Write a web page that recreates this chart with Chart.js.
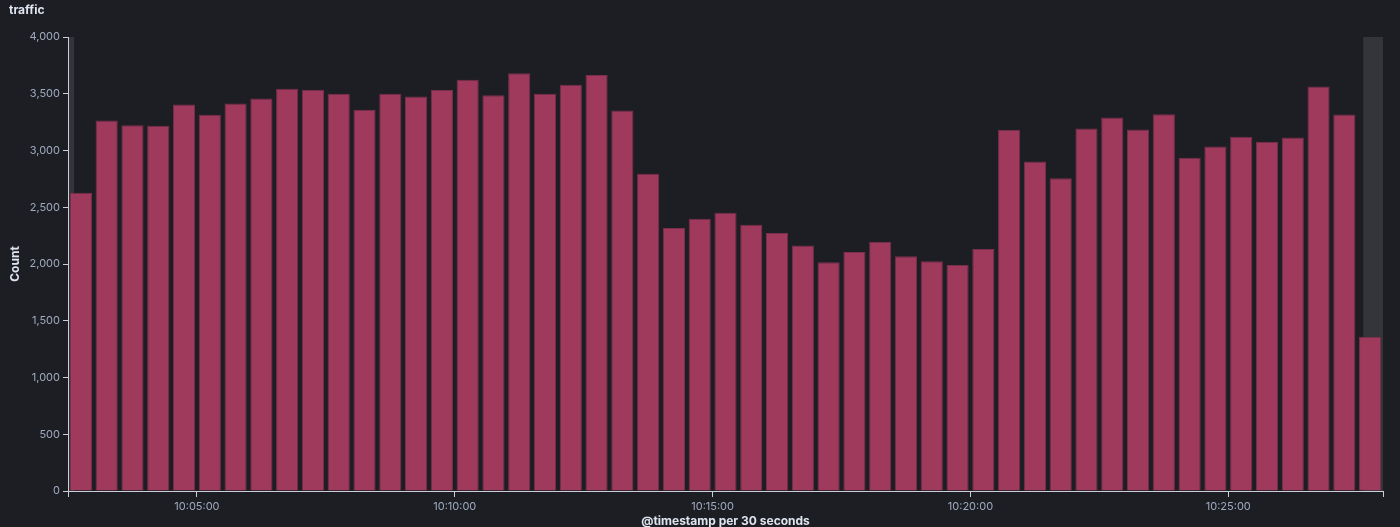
<!DOCTYPE html>
<html>
<head>
<meta charset="utf-8">
<script src="https://cdn.jsdelivr.net/npm/chart.js@4/dist/chart.umd.min.js"></script>
<style>
  html, body { margin: 0; padding: 0; background: #1d1e24; }
  #wrap { width: 1400px; height: 527px; position: relative; }
</style>
</head>
<body>
<div id="wrap"><canvas id="myChart"></canvas></div>
<script>
// bucket start of first bar, 30 second buckets
const startTime = '10:02:30';
const bucketSeconds = 30;
const counts = [
  2627, 3265, 3223, 3218, 3406, 3315, 3414, 3459, 3544, 3535,
  3500, 3359, 3500, 3475, 3532, 3623, 3486, 3680, 3500, 3579,
  3666, 3353, 2795, 2318, 2398, 2451, 2346, 2274, 2162, 2015,
  2106, 2197, 2068, 2024, 1992, 2133, 3183, 2903, 2756, 3194,
  3291, 3185, 3320, 2936, 3035, 3121, 3077, 3115, 3563, 3317,
  1358
];
const axisRange = ['10:02:30', '10:28:00'];
const timeRange = ['10:02:37', '10:27:37']; // outside of this is shaded
const tickTimes = ['10:05:00', '10:10:00', '10:15:00', '10:20:00', '10:25:00'];
const yTicks = [0, 500, 1000, 1500, 2000, 2500, 3000, 3500, 4000];

function toSec(t) {
  const p = t.split(':').map(Number);
  return p[0] * 3600 + p[1] * 60 + p[2];
}
function fmt(s) {
  const pad = n => String(n).padStart(2, '0');
  return pad(Math.floor(s / 3600)) + ':' + pad(Math.floor(s / 60) % 60) + ':' + pad(s % 60);
}

const start = toSec(startTime);
const points = counts.map((v, i) => ({ x: start + i * bucketSeconds + bucketSeconds / 2, y: v }));
const xMin = toSec(axisRange[0]);
const xMax = toSec(axisRange[1]);
const tickSecs = tickTimes.map(toSec);

const axisColor = '#c9ced8';
const labelColor = '#9eabbf';

const shadePlugin = {
  id: 'shade',
  beforeDatasetsDraw(chart) {
    const { ctx, chartArea, scales } = chart;
    const x = scales.x;
    ctx.save();
    ctx.fillStyle = '#34353a';
    const l0 = x.getPixelForValue(xMin) + 1, l1 = x.getPixelForValue(toSec(timeRange[0]));
    const r0 = x.getPixelForValue(toSec(timeRange[1])), r1 = x.getPixelForValue(xMax);
    ctx.fillRect(l0, chartArea.top, l1 - l0, chartArea.bottom - chartArea.top);
    ctx.fillRect(r0, chartArea.top, r1 - r0, chartArea.bottom - chartArea.top);
    ctx.restore();
  }
};

Chart.defaults.font.family = 'Inter, "Noto Sans", sans-serif';

var ctx = document.getElementById('myChart').getContext('2d');
var chart = new Chart(ctx, {
  type: 'bar',
  data: {
    datasets: [{
      label: 'Count',
      data: points,
      backgroundColor: '#9f3a5d',
      borderColor: '#7a2e4b',
      borderWidth: 1,
      barPercentage: 0.86,
      categoryPercentage: 1
    }]
  },
  options: {
    responsive: true,
    maintainAspectRatio: false,
    animation: false,
    layout: { padding: { left: 9, right: 17, top: 0, bottom: 0 } },
    plugins: {
      legend: { display: false },
      tooltip: { enabled: false },
      title: {
        display: true,
        text: 'traffic',
        align: 'start',
        color: '#dfe5ef',
        font: { size: 12, weight: 'bold', lineHeight: 1.2 },
        padding: { top: 3, bottom: 19.6 }
      }
    },
    scales: {
      x: {
        type: 'linear',
        min: xMin,
        max: xMax,
        offset: false,
        grid: { offset: false, drawOnChartArea: false, drawTicks: true, tickLength: 6, color: axisColor },
        border: { display: true, color: axisColor, width: 1 },
        afterBuildTicks: (scale) => {
          scale.ticks = [xMin].concat(tickSecs, [xMax]).map(v => ({ value: v }));
        },
        ticks: {
          color: labelColor,
          font: { size: 11 },
          padding: 3,
          maxRotation: 0,
          autoSkip: false,
          callback: (v) => tickSecs.includes(v) ? fmt(v) : ''
        },
        title: {
          display: true,
          text: '@timestamp per 30 seconds',
          color: '#dfe5ef',
          font: { size: 12, weight: 'bold', lineHeight: 1 },
          padding: { top: 0, bottom: 0 }
        },
        afterFit: (scale) => { scale.height = 36; }
      },
      y: {
        min: 0,
        max: 4000,
        afterBuildTicks: (scale) => {
          scale.ticks = yTicks.map(v => ({ value: v }));
        },
        grid: { drawOnChartArea: false, drawTicks: true, tickLength: 5, color: axisColor },
        border: { display: true, color: axisColor, width: 1 },
        ticks: {
          color: labelColor,
          font: { size: 11 },
          padding: 3
        },
        title: {
          display: true,
          text: 'Count',
          color: '#dfe5ef',
          font: { size: 12, weight: 'bold', lineHeight: 1 },
          padding: { top: 0, bottom: 0 }
        },
        afterFit: (scale) => { scale.width = 59; }
      }
    }
  },
  plugins: [shadePlugin]
});
</script>
</body>
</html>
